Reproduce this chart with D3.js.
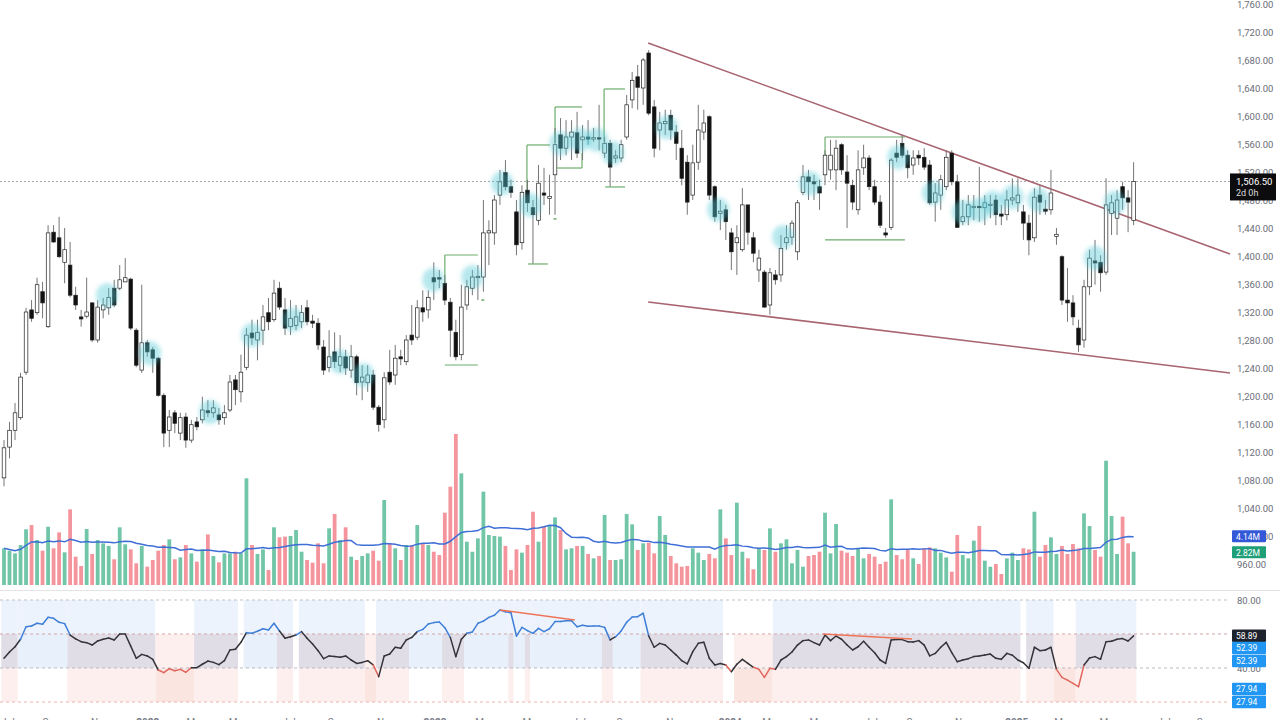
<!DOCTYPE html>
<html><head><meta charset="utf-8">
<script src="https://cdn.jsdelivr.net/npm/d3@7/dist/d3.min.js"></script>
<style>html,body{margin:0;padding:0;background:#fff;overflow:hidden}svg{display:block}</style>
</head><body><svg id="c" width="1280" height="720"></svg>
<script>
// ---------- DATA (weekly bars) ----------
const open=[1083,1127,1151,1169,1234,1323,1319,1349,1299,1434,
1426,1391,1387,1344,1313,1314,1333,1280,1323,1326,
1354,1354,1363,1367,1294,1237,1276,1266,1254,1201,
1151,1176,1147,1170,1137,1163,1166,1179,1176,1173,
1169,1180,1223,1206,1241,1290,1280,1294,1319,1309,
1354,1323,1299,1301,1306,1326,1307,1304,1270,1241,
1263,1244,1256,1237,1256,1220,1219,1230,1184,1166,
1234,1230,1256,1249,1287,1284,1326,1323,1369,1369,
1361,1334,1291,1259,1330,1354,1369,1370,1433,1433,
1487,1519,1499,1463,1419,1494,1469,1451,1490,1482,
1516,1573,1554,1570,1576,1566,1570,1567,1569,1547,
1561,1540,1540,1570,1623,1656,1640,1690,1613,1580,
1589,1601,1577,1554,1534,1487,1534,1577,1599,1499,
1461,1466,1433,1419,1409,1473,1426,1380,1377,1330,
1373,1373,1419,1427,1406,1491,1513,1506,1499,1516,
1523,1523,1559,1520,1501,1466,1526,1540,1499,1477,
1433,1441,1547,1561,1544,1530,1544,1541,1530,1477,
1487,1499,1547,1506,1449,1456,1469,1471,1469,1472,
1480,1460,1459,1480,1476,1463,1447,1426,1487,1467,
1466,1428,1399,1337,1333,1297,1280,1356,1393,1391,
1377,1461,1454,1499,1483,1451];
const high=[1137,1163,1190,1233,1326,1337,1369,1363,1444,1444,
1456,1440,1420,1356,1323,1369,1334,1337,1340,1354,
1366,1387,1397,1369,1297,1359,1280,1270,1256,1204,
1180,1180,1176,1176,1166,1170,1199,1194,1194,1183,
1187,1230,1230,1259,1297,1309,1309,1330,1340,1366,
1363,1340,1337,1330,1330,1337,1316,1311,1280,1294,
1291,1287,1266,1273,1259,1244,1244,1237,1187,1234,
1266,1273,1266,1287,1330,1337,1351,1351,1391,1380,
1373,1340,1309,1359,1366,1380,1387,1480,1451,1487,
1523,1537,1509,1480,1501,1509,1480,1530,1526,1516,
1583,1597,1594,1594,1606,1587,1594,1583,1616,1570,
1566,1551,1566,1630,1663,1673,1683,1694,1623,1606,
1609,1609,1587,1580,1544,1559,1616,1609,1601,1501,
1480,1473,1440,1444,1497,1473,1434,1409,1380,1383,
1380,1430,1444,1451,1480,1530,1523,1516,1509,1551,
1566,1566,1561,1544,1509,1551,1559,1544,1509,1487,
1440,1540,1566,1573,1551,1551,1551,1554,1537,1504,
1516,1551,1551,1516,1480,1487,1487,1527,1487,1487,
1487,1473,1494,1511,1511,1473,1459,1497,1501,1480,
1523,1440,1401,1383,1344,1309,1366,1409,1423,1401,
1511,1487,1494,1506,1494,1534];
const low=[1071,1111,1137,1166,1230,1306,1316,1311,1297,1419,
1397,1361,1341,1323,1299,1311,1277,1276,1311,1316,
1327,1351,1363,1294,1241,1233,1256,1233,1199,1127,
1127,1147,1137,1126,1133,1151,1161,1170,1169,1159,
1159,1177,1187,1191,1237,1273,1251,1273,1294,1306,
1323,1287,1287,1294,1297,1301,1297,1266,1230,1234,
1240,1234,1230,1226,1201,1194,1206,1180,1149,1154,
1216,1216,1244,1244,1273,1280,1306,1311,1337,1354,
1330,1256,1251,1251,1323,1344,1337,1349,1387,1416,
1473,1494,1483,1401,1409,1463,1389,1444,1473,1459,
1459,1537,1544,1537,1540,1537,1559,1563,1551,1540,
1499,1533,1534,1566,1611,1609,1616,1601,1541,1551,
1573,1566,1537,1501,1459,1480,1523,1566,1480,1449,
1437,1423,1380,1373,1406,1416,1391,1363,1326,1316,
1359,1363,1409,1416,1394,1487,1480,1480,1466,1501,
1509,1494,1516,1440,1466,1459,1516,1494,1473,1440,
1426,1437,1534,1540,1511,1516,1530,1523,1473,1449,
1466,1494,1501,1440,1444,1444,1451,1449,1444,1454,
1444,1444,1451,1473,1463,1423,1401,1420,1459,1459,
1459,1416,1330,1306,1301,1263,1269,1344,1359,1349,
1373,1430,1430,1466,1434,1444];
const close=[1126,1151,1176,1227,1320,1311,1359,1333,1433,1420,
1399,1409,1344,1330,1310,1320,1280,1327,1330,1341,
1330,1366,1369,1297,1244,1276,1263,1254,1201,1147,
1170,1161,1169,1137,1159,1156,1180,1176,1183,1166,
1176,1220,1209,1234,1287,1283,1291,1313,1306,1347,
1327,1297,1311,1313,1319,1306,1304,1273,1237,1256,
1249,1256,1240,1256,1219,1227,1230,1184,1159,1226,
1220,1254,1253,1280,1280,1326,1320,1341,1363,1367,
1337,1294,1256,1327,1356,1370,1371,1433,1436,1480,
1506,1499,1491,1416,1491,1476,1459,1504,1487,1485,
1559,1554,1570,1577,1547,1570,1567,1569,1567,1561,
1527,1543,1559,1616,1651,1641,1680,1604,1554,1590,
1592,1580,1561,1511,1477,1533,1580,1590,1487,1456,
1464,1449,1406,1426,1473,1434,1404,1397,1327,1376,
1366,1411,1426,1447,1476,1513,1506,1503,1490,1544,
1544,1554,1523,1504,1477,1523,1540,1499,1477,1444,
1430,1537,1541,1544,1526,1540,1540,1527,1476,1490,
1509,1541,1506,1441,1456,1473,1471,1469,1476,1474,
1459,1457,1480,1483,1487,1447,1423,1484,1477,1464,
1490,1431,1337,1333,1313,1273,1356,1397,1390,1376,
1473,1476,1480,1483,1477,1506.5];
// volume, millions
const volume=[3.11,2.91,2.68,3.39,4.72,5.08,3.81,2.91,4.94,3.11,
4.46,2.77,6.41,2.40,1.61,4.75,2.63,3.81,3.53,3.31,
2.18,4.89,3.45,3.02,1.84,3.31,1.55,2.12,2.91,3.39,
3.87,2.18,2.34,3.39,2.68,1.98,3.02,4.29,2.46,1.92,
2.68,2.68,2.82,2.68,9.04,3.39,2.63,3.02,1.27,4.89,
4.04,4.10,4.15,4.66,2.82,2.12,1.89,3.53,1.84,4.80,
6.02,3.81,4.89,2.40,2.12,2.46,2.68,2.91,2.06,7.20,
3.53,3.11,2.12,3.39,3.39,5.08,3.53,3.39,2.82,2.54,
6.13,8.33,12.8,9.46,3.67,2.82,3.95,7.91,4.24,4.15,
4.10,3.31,1.27,3.02,2.74,3.39,6.21,3.67,4.94,5.08,
5.73,4.66,3.02,3.11,3.31,3.31,2.63,2.26,2.46,5.93,
2.12,2.12,2.18,6.02,5.14,2.97,3.53,3.59,2.68,5.85,
4.24,2.46,1.84,1.55,1.61,3.11,2.74,2.12,2.63,2.26,
6.41,3.95,2.54,6.98,2.82,2.26,1.33,3.11,2.97,4.80,
2.82,3.53,3.87,1.84,2.97,1.55,2.46,2.54,2.82,6.13,
2.68,5.17,2.91,2.74,2.46,3.11,2.26,2.63,2.40,1.78,
1.98,7.26,2.54,2.18,3.02,2.26,1.78,3.11,3.19,3.11,
2.74,2.34,1.13,4.24,2.54,2.26,3.76,5.00,2.06,1.55,
1.78,0.93,2.26,2.74,2.12,3.11,3.02,6.21,2.40,3.39,
4.04,2.63,3.31,2.63,3.47,3.11,6.07,5.00,2.97,2.40,
10.53,5.85,2.63,5.79,3.53,2.82];
const rsi=[45.7,49.4,52.5,56.9,64.3,64.7,66.3,65.7,69.8,69.2,
66.9,66.1,59.4,57.1,55.5,54.9,53.5,55.9,56.9,57.6,
56.5,60,60,52.9,45.7,48,47.1,45.1,38.8,37.3,
39.6,38.4,39.2,37.5,40.2,40.2,42.2,44.1,43.3,42,
44.3,50.6,51,55.1,60.8,60.4,61.6,63.1,62.4,66.3,
61.8,57.5,58.4,59.4,61.4,57.5,54.1,50.2,45.5,47.1,
46.7,46.3,47.1,44.7,42.7,43.3,44.3,41.8,34.9,47.1,
48.2,52.2,51.6,56.5,58,61.4,62.7,65.9,66.7,67.1,
63.7,58,46.7,56.9,60.4,61.2,66.3,67.6,69.8,71,
74.1,73.1,72.5,58.8,63.9,62,60.4,63.3,61.4,63.1,
67.3,67.3,67.8,67.8,64.3,65.1,64.5,64.7,64.7,63.9,
56.5,58.4,61.8,66.9,70,70.2,72.2,58.8,52.2,54.5,
53.5,50.6,47.6,44.3,42.4,49.6,54.5,55.1,45.7,41.8,
42.7,41.8,37.8,42.2,45.1,42.7,40.4,39.2,34.5,39.8,
39.2,44.7,46.7,49.4,53.5,56.1,56.5,54.9,53.5,59.4,
56.1,58.8,56.9,53.5,50.6,52.5,55.7,52.2,49,44.7,
42.7,56.5,56.7,56.7,55.5,55.3,56.1,53.5,47.1,48.6,
52.2,55.1,49,43.7,44.7,45.5,46.7,47.1,47.6,48.2,
45.7,45.1,48.6,47.5,44.7,43.1,39.8,52.2,50.2,50.6,
52.2,39.2,34.5,32.9,31,29,41.8,45.9,46.7,45.1,
55.5,55.7,56.9,57.3,55.9,58.89];
// RSI background state per bar range: A bullish, B neutral, C bearish, W blank
const rsiZones=[[0,2,'B'],[3,11,'A'],[12,27,'B'],[28,34,'C'],[35,42,'B'],[43,43,'W'],[44,49,'A'],[50,52,'B'],[53,53,'W'],[54,65,'B'],[66,67,'C'],[68,73,'B'],[74,79,'A'],[80,83,'B'],[84,91,'A'],[92,92,'B'],[93,94,'A'],[95,95,'B'],[96,108,'A'],[109,110,'B'],[111,115,'A'],[116,130,'B'],[131,132,'W'],[133,139,'C'],[140,184,'B'],[185,185,'W'],[186,190,'B'],[191,194,'C'],[195,205,'B']];
const priceTicks=[960,1000,1040,1080,1120,1160,1200,1240,1280,1320,1360,1400,1440,1480,1520,1560,1600,1640,1680,1720,1760];
const rsiLevels=[80,60,40,20];
const rsiTickLabels=[80,40];
// cyan pattern highlights [bar, price]
const highlights=[[18.7,1344],[26.5,1261],[37.4,1177],[45,1287],[52.5,1309],[61,1249],[65.2,1230],[77.9,1366],[85,1370],[90.4,1504],[95.5,1473],[101,1561],[104.5,1566],[107.6,1566],[110.5,1547],[120.3,1584],[129.6,1466],[141.4,1427],[146.3,1504],[162.3,1541],[168.6,1490],[174,1463],[177,1466],[179.5,1476],[183,1484],[187.7,1480],[198,1397],[201.6,1476]];
// wedge trend lines [bar0, price0, bar1, price1]
const trendLines=[[116.9,1704.3,222.5,1402.9],[116.9,1334.3,222.5,1232.9]];
// green range brackets [bar0, price0, bar1, price1]
const levels=[[80,1401.4,86,1401.4],[80,1401.4,80,1351.4],[80,1244.3,86,1244.3],
[94.9,1558.6,99.1,1558.6],[94.9,1558.6,94.9,1490],[95.1,1388.6,98.7,1388.6],
[100,1612.9,104.9,1612.9],[100,1612.9,100,1561.4],[100.4,1525.7,104.9,1525.7],[104.9,1547.1,104.9,1525.7],
[108.9,1638.6,112.7,1638.6],[108.9,1638.6,108.9,1562.9],[109.1,1498.6,112.7,1498.6],
[149,1570,163.5,1570],[149,1570,149,1541.4],[149,1422.9,163.5,1422.9]];
const smallMarks=[[86.9,1337],[100,1453]];
// RSI divergence lines [bar0, rsi0, bar1, rsi1]
const divergences=[[90,74.1,103.6,68.2],[148.6,60,164.8,57.1]];
const xTickIdx=[0.7,8.5,17.4,26.1,34.7,42.5,51.7,60.3,69.3,78.2,87.1,95.8,104.4,112.7,121.8,131.8,139.2,147.9,157.4,165.3,174.2,183.8,192.2,200.5,210.5,218];
const xTickLabels=["Jul","Sep","Nov","2022","Mar","May","Jul","Sep","Nov","2023","Mar","May","Jul","Sep","Nov","2024","Mar","May","Jul","Sep","Nov","2025","Mar","May","Jul","Sep"];
const lastPrice=1506.5, barTimer="2d 0h";
const volLabels=["4.14M","2.82M"];
const rsiValueLabels=[["58.89","#1e222d"],["52.39","#2196f3"],["52.39","#2196f3"],["27.94","#2196f3"],["27.94","#2196f3"]];

// ---------- DRAWING ----------
const svg=d3.select('#c');
const FONT='Roboto, "Liberation Sans", Arial, sans-serif';
const n=close.length;
const x=d3.scaleLinear().domain([0,205]).range([4,1133.6]);
const step=x(1)-x(0);
const y=d3.scaleLinear().domain([960,1760]).range([564,4]);
const yv=d3.scaleLinear().domain([0,12.88]).range([585,433]);
const yr=d3.scaleLinear().domain([20,80]).range([702,600]);
const idx=d3.range(n);
const PLOT_R=1230;

// RSI background bands
const bandCols={A:['#edf3fc','#e8f0fb','#ffffff'],B:['#edf3fc','#e0dde7','#fdefed'],C:['#ffffff','#fcefed','#fbe5e1'],W:['#ffffff','#ffffff','#ffffff']};
const bandRows=[];
rsiZones.forEach(([s,e,k])=>{for(let b=0;b<3;b++)bandRows.push({s,e,k,b});});
svg.append('g').selectAll('rect').data(bandRows).join('rect')
 .attr('x',d=>x(d.s)-step/2).attr('width',d=>x(d.e)-x(d.s)+step)
 .attr('y',d=>yr(rsiLevels[d.b])).attr('height',d=>yr(rsiLevels[d.b+1])-yr(rsiLevels[d.b]))
 .attr('fill',d=>bandCols[d.k][d.b]);

// pane separator
svg.append('line').attr('x1',0).attr('x2',1280).attr('y1',590.5).attr('y2',590.5).attr('stroke','#e3e3e6');

// RSI level lines
const rsiLineCols={80:'#b9c2d0',60:'#d2a6a6',40:'#b9bac4',20:'#eab4ae'};
svg.append('g').selectAll('line').data(rsiLevels).join('line')
 .attr('x1',0).attr('x2',PLOT_R).attr('y1',d=>yr(d)).attr('y2',d=>yr(d))
 .attr('stroke',d=>rsiLineCols[d]).attr('stroke-dasharray','3,3').attr('stroke-width',1);

// volume bars
svg.append('g').selectAll('rect').data(idx).join('rect')
 .attr('x',i=>x(i)-1.9).attr('width',3.8)
 .attr('y',i=>yv(volume[i])).attr('height',i=>yv(0)-yv(volume[i]))
 .attr('fill',i=>close[i]>=open[i]?'#72c6a8':'#f4959d');

// volume moving average (20)
const volMA=idx.map(i=>d3.mean(volume.slice(Math.max(0,i-19),i+1)));
svg.append('path').datum(idx).attr('fill','none').attr('stroke','#3f6fd6').attr('stroke-width',1.5)
 .attr('d',d3.line().x(i=>x(i)).y(i=>yv(volMA[i])));

// current price dotted line
svg.append('line').attr('x1',0).attr('x2',PLOT_R).attr('y1',y(lastPrice)).attr('y2',y(lastPrice))
 .attr('stroke','#a3a6ae').attr('stroke-dasharray','2,2').attr('stroke-width',1);

// trend lines
svg.append('g').selectAll('line').data(trendLines).join('line')
 .attr('x1',d=>x(d[0])).attr('y1',d=>y(d[1])).attr('x2',d=>x(d[2])).attr('y2',d=>y(d[3]))
 .attr('stroke','#a8646f').attr('stroke-width',1.5);

// green brackets
svg.append('g').selectAll('line').data(levels).join('line')
 .attr('x1',d=>x(d[0])).attr('y1',d=>y(d[1])).attr('x2',d=>x(d[2])).attr('y2',d=>y(d[3]))
 .attr('stroke','#6cad6c').attr('stroke-width',1.2);
svg.append('g').selectAll('line').data(smallMarks).join('line')
 .attr('x1',d=>x(d[0])-1.5).attr('x2',d=>x(d[0])+1.5).attr('y1',d=>y(d[1])).attr('y2',d=>y(d[1]))
 .attr('stroke','#6cad6c').attr('stroke-width',1.5);

// candles
const cg=svg.append('g');
cg.selectAll('line').data(idx).join('line')
 .attr('x1',i=>x(i)).attr('x2',i=>x(i)).attr('y1',i=>y(high[i])).attr('y2',i=>y(low[i]))
 .attr('stroke','#767676').attr('stroke-width',1);
cg.selectAll('rect').data(idx).join('rect')
 .attr('x',i=>x(i)-1.8).attr('width',3.6)
 .attr('y',i=>y(Math.max(open[i],close[i])))
 .attr('height',i=>Math.max(1,Math.abs(y(open[i])-y(close[i]))))
 .attr('fill',i=>close[i]>=open[i]?'#ffffff':'#111111')
 .attr('stroke','#222').attr('stroke-width',0.7);

// cyan highlights
const defs=svg.append('defs');
defs.append('filter').attr('id','blur').append('feGaussianBlur').attr('stdDeviation',2.2);
svg.append('g').attr('filter','url(#blur)').selectAll('ellipse').data(highlights).join('ellipse')
 .attr('cx',d=>x(d[0])).attr('cy',d=>y(d[1])).attr('rx',11).attr('ry',12)
 .attr('fill','rgba(80,200,215,0.42)');

// RSI line, coloured by zone
const segs=d3.range(n-1).map(i=>({i,m:(rsi[i]+rsi[i+1])/2}));
svg.append('g').selectAll('line').data(segs).join('line')
 .attr('x1',d=>x(d.i)).attr('x2',d=>x(d.i+1)).attr('y1',d=>yr(rsi[d.i])).attr('y2',d=>yr(rsi[d.i+1]))
 .attr('stroke',d=>d.m>60?'#3f7fd8':(d.m<40?'#e0665c':'#333338')).attr('stroke-width',1.5)
 .attr('stroke-linecap','round');
svg.append('g').selectAll('line').data(divergences).join('line')
 .attr('x1',d=>x(d[0])).attr('y1',d=>yr(d[1])).attr('x2',d=>x(d[2])).attr('y2',d=>yr(d[3]))
 .attr('stroke','#ee7458').attr('stroke-width',1.5);

// price axis
const ax=svg.append('g').attr('transform','translate(1237,0)')
 .call(d3.axisRight(y).tickValues(priceTicks).tickFormat(d3.format(',.2f')).tickSize(0).tickPadding(0));
ax.select('.domain').remove();
ax.selectAll('text').attr('font-family',FONT).attr('font-size',9.5).attr('fill','#6a6d78');

// rsi axis (visible level labels)
const rax=svg.append('g').attr('transform','translate(1237,0)')
 .call(d3.axisRight(yr).tickValues(rsiTickLabels).tickFormat(d3.format('.2f')).tickSize(0).tickPadding(0));
rax.select('.domain').remove();
rax.selectAll('text').attr('font-family',FONT).attr('font-size',9.5).attr('fill','#6a6d78');

// last price label
const lp=svg.append('g');
lp.append('rect').attr('x',1230).attr('y',y(lastPrice)-8).attr('width',46).attr('height',27).attr('fill','#0c0c0e');
lp.append('text').attr('x',1236).attr('y',y(lastPrice)+3.5).text(d3.format(',.2f')(lastPrice))
 .attr('font-family',FONT).attr('font-size',9.5).attr('fill','#fff');
lp.append('text').attr('x',1236).attr('y',y(lastPrice)+15).text(barTimer)
 .attr('font-family',FONT).attr('font-size',9).attr('fill','#ddd');

// volume labels
const vcol=['#3358d8','#1f9f78'];
const vy=[yv(volMA[n-1]),yv(volume[n-1])];
volLabels.forEach((t,k)=>{
 svg.append('rect').attr('x',1232).attr('y',vy[k]-6.5+(k===0?0:1)).attr('width',34).attr('height',12).attr('fill',vcol[k]).attr('rx',1);
 svg.append('text').attr('x',1236).attr('y',vy[k]+3.3+(k===0?0:1)).text(t).attr('font-family',FONT).attr('font-size',8.5).attr('fill','#fff');
});

// rsi value labels
const ry0=[yr(rsi[n-1]),648,661,689,702];
rsiValueLabels.forEach(([t,c],k)=>{
 svg.append('rect').attr('x',1232).attr('y',ry0[k]-6.3).attr('width',34).attr('height',12.5).attr('fill',c).attr('rx',1);
 svg.append('text').attr('x',1236).attr('y',ry0[k]+3.3).text(t).attr('font-family',FONT).attr('font-size',8.5).attr('fill','#fff');
});

// time axis (clipped at bottom edge, as in the source)
svg.append('g').selectAll('text').data(xTickIdx).join('text')
 .attr('x',d=>x(d)).attr('y',726).attr('text-anchor','middle')
 .text((d,k)=>xTickLabels[k]).attr('font-family',FONT).attr('font-size',10)
 .attr('font-weight',(d,k)=>/^\d{4}$/.test(xTickLabels[k])?'bold':'normal')
 .attr('fill','#787b86');
</script></body></html>
